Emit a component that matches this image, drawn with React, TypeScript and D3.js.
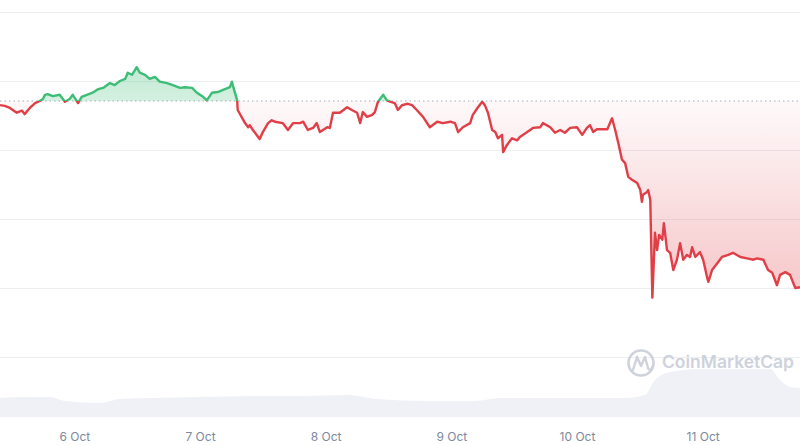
import { useRef, useEffect } from 'react';
import * as d3 from 'd3';

// hours since 5 Oct 00:00, price samples
const hours = [
    9.7, 10.6, 11.6, 12.9, 13.9, 14.4, 15.4, 16.4, 17.3, 17.9,
    18.3, 18.8, 19.8, 21.1, 22.1, 23.0, 23.6, 24.6, 25.3, 26.3,
    27.4, 28.4, 29.4, 30.7, 31.6, 32.6, 33.6, 34.1, 34.9, 35.5,
    35.8, 36.4, 37.4, 38.3, 39.3, 40.2, 41.6, 42.7, 44.1, 45.0,
    46.4, 47.3, 48.5, 49.2, 50.2, 51.3, 52.3, 53.6, 54.0, 54.2,
    55.0, 55.1, 56.5, 57.1, 57.4, 58.0, 59.3, 59.9, 60.9, 61.6,
    62.2, 63.7, 64.7, 65.7, 67.0, 67.6, 68.5, 69.5, 70.2, 70.8,
    72.2, 72.7, 73.3, 74.6, 76.0, 76.9, 77.9, 78.5, 79.0, 79.8,
    80.8, 81.3, 81.9, 82.9, 83.6, 84.2, 85.1, 85.7, 86.5, 87.6,
    88.4, 89.3, 90.5, 91.8, 93.2, 94.3, 95.7, 96.6, 97.2, 98.1,
    99.5, 100.0, 101.0, 101.8, 102.3, 102.9, 103.7, 104.3, 104.8, 105.6,
    105.8, 106.5, 107.5, 108.5, 109.0, 110.4, 111.5, 112.9, 113.4, 114.8,
    115.7, 116.7, 117.6, 118.6, 119.9, 120.9, 121.8, 122.4, 123.0, 123.7,
    124.3, 125.7, 126.6, 127.2, 127.8, 128.5, 129.1, 129.7, 130.4, 131.4,
    132.0, 132.3, 132.5, 133.3, 133.5, 133.9, 134.3, 134.8, 135.2, 135.6,
    136.2, 136.5, 137.1, 137.7, 138.3, 139.0, 139.6, 140.2, 140.9, 141.5,
    141.9, 142.5, 143.4, 144.0, 144.8, 145.0, 145.7, 146.7, 147.6, 148.8,
    149.7, 151.1, 152.4, 153.6, 154.3, 155.5, 156.4, 157.2, 158.1, 158.7,
    159.7, 160.6, 161.6, 162.5
];
const prices = [
    46.5, 46.4, 46.1, 45.4, 45.7, 45.2, 46.1, 46.8, 47.1, 47.4,
    48.0, 48.1, 47.8, 48.0, 47.0, 47.4, 48.0, 46.8, 47.7, 48.0,
    48.3, 48.8, 49.0, 49.7, 49.4, 50.0, 50.3, 51.2, 50.9, 51.6,
    52.0, 51.2, 50.9, 50.3, 50.6, 49.9, 49.7, 49.4, 49.0, 49.1,
    49.0, 48.3, 47.7, 47.2, 48.3, 48.4, 48.7, 49.1, 49.9, 49.3,
    47.2, 45.8, 43.9, 43.3, 43.6, 42.9, 41.6, 42.6, 43.9, 44.3,
    44.1, 43.9, 42.9, 43.9, 43.9, 44.1, 42.9, 43.2, 43.9, 42.6,
    43.3, 43.2, 45.4, 45.4, 46.2, 45.8, 45.4, 43.9, 45.5, 44.8,
    45.1, 45.5, 47.0, 48.0, 47.2, 47.0, 46.8, 45.8, 46.5, 46.7,
    46.5, 45.8, 44.8, 43.3, 44.1, 43.9, 44.1, 43.9, 42.6, 43.3,
    43.9, 45.1, 46.2, 47.0, 46.5, 45.4, 42.9, 42.6, 41.7, 42.2,
    39.7, 40.7, 41.7, 41.4, 41.9, 42.6, 43.2, 43.3, 43.9, 43.3,
    42.5, 42.9, 42.5, 43.2, 43.3, 42.2, 43.2, 43.6, 42.6, 43.0,
    43.0, 43.0, 44.6, 42.9, 41.0, 38.6, 38.1, 36.1, 35.7, 35.2,
    34.2, 32.5, 33.5, 33.9, 34.2, 32.8, 18.6, 28.0, 25.5, 27.7,
    27.0, 29.4, 25.5, 25.1, 22.6, 24.1, 26.5, 24.1, 24.8, 24.5,
    25.9, 24.5, 25.2, 24.1, 21.4, 20.9, 22.6, 23.6, 24.5, 24.8,
    25.1, 24.5, 24.3, 24.1, 24.3, 24.1, 22.6, 22.2, 20.4, 21.9,
    22.3, 21.9, 20.0, 20.1
];
const openPrice = 47.1;

const volumeHours = [
    9.7, 14.4, 19.2, 22.1, 28.8, 32.6, 38.3, 47.9, 57.4, 67.0,
    76.5, 81.3, 91.8, 100.4, 105.2, 116.7, 129.1, 132.9, 134.8, 137.7,
    143.4, 151.1, 156.8, 158.7, 160.6, 162.5
];
const volumes = [
    190, 200, 200, 160, 140, 180, 190, 200, 210, 210,
    220, 180, 160, 160, 190, 190, 190, 220, 370, 450,
    480, 480, 480, 370, 300, 290
];

const priceTicks = [10, 20, 30, 40, 50, 60];

const W = 800;
const H = 445;
const RED = '#e03f47';
const GREEN = '#3dbd76';

type Pt = { t: Date; v: number };

export default function App() {
    const svgRef = useRef<SVGSVGElement | null>(null);

    useEffect(() => {
        if (!svgRef.current) return;
        const svg = d3.select(svgRef.current);
        svg.selectAll('*').remove();

        const base = new Date(2025, 9, 5, 0, 0).getTime();
        const toDate = (h: number) => new Date(base + h * 3600e3);
        const data: Pt[] = hours.map((h, i) => ({ t: toDate(h), v: prices[i] }));
        const vol: Pt[] = volumeHours.map((h, i) => ({ t: toDate(h), v: volumes[i] }));

        const x = d3.scaleTime()
            .domain([toDate(hours[0]), toDate(hours[hours.length - 1])])
            .range([0, W]);
        const y = d3.scaleLinear().domain([10, 60]).range([357, 12]);
        const yVol = d3.scaleLinear().domain([0, 500]).range([417, 367]);
        const yBase = y(openPrice);

        const defs = svg.append('defs');
        defs.append('clipPath').attr('id', 'above')
            .append('rect').attr('x', 0).attr('y', 0).attr('width', W).attr('height', yBase);
        defs.append('clipPath').attr('id', 'below')
            .append('rect').attr('x', 0).attr('y', yBase).attr('width', W).attr('height', H - yBase);

        const redGrad = defs.append('linearGradient').attr('id', 'redGrad')
            .attr('gradientUnits', 'userSpaceOnUse')
            .attr('x1', 0).attr('x2', 0).attr('y1', yBase).attr('y2', y(d3.min(prices)!));
        redGrad.append('stop').attr('offset', 0).attr('stop-color', RED).attr('stop-opacity', 0.03);
        redGrad.append('stop').attr('offset', 1).attr('stop-color', RED).attr('stop-opacity', 0.3);

        const greenGrad = defs.append('linearGradient').attr('id', 'greenGrad')
            .attr('gradientUnits', 'userSpaceOnUse')
            .attr('x1', 0).attr('x2', 0).attr('y1', yBase).attr('y2', y(d3.max(prices)!));
        greenGrad.append('stop').attr('offset', 0).attr('stop-color', GREEN).attr('stop-opacity', 0.22);
        greenGrad.append('stop').attr('offset', 1).attr('stop-color', GREEN).attr('stop-opacity', 0.32);

        // grid
        svg.append('g').selectAll('line')
            .data(priceTicks)
            .join('line')
            .attr('x1', 0).attr('x2', W)
            .attr('y1', d => Math.round(y(d)) + 0.5).attr('y2', d => Math.round(y(d)) + 0.5)
            .attr('stroke', '#eceef2').attr('stroke-width', 1);

        // volume
        svg.append('path')
            .datum(vol)
            .attr('fill', '#eff1f6')
            .attr('d', d3.area<Pt>().x(d => x(d.t)).y0(yVol(0)).y1(d => yVol(d.v)).curve(d3.curveMonotoneX));

        // watermark
        const wm = svg.append('g').attr('opacity', 0.85);
        wm.append('circle').attr('cx', 641).attr('cy', 363).attr('r', 12.5)
            .attr('fill', 'none').attr('stroke', '#c6cbd6').attr('stroke-width', 2.6);
        wm.append('path')
            .attr('d', 'M633,370 L637,357 L641,366 L645,357 L648,368 Q650,372 653,366')
            .attr('fill', 'none').attr('stroke', '#c6cbd6').attr('stroke-width', 2.4)
            .attr('stroke-linejoin', 'round').attr('stroke-linecap', 'round');
        wm.append('text').attr('x', 662).attr('y', 368)
            .attr('font-family', 'Inter, "Noto Sans", sans-serif')
            .attr('font-size', 17).attr('font-weight', 600)
            .attr('textLength', 132).attr('lengthAdjust', 'spacingAndGlyphs')
            .attr('fill', '#c6cbd6')
            .text('CoinMarketCap');

        const area = d3.area<Pt>().x(d => x(d.t)).y0(yBase).y1(d => y(d.v));
        const line = d3.line<Pt>().x(d => x(d.t)).y(d => y(d.v));

        svg.append('path').datum(data).attr('clip-path', 'url(#above)')
            .attr('fill', 'url(#greenGrad)').attr('d', area);
        svg.append('path').datum(data).attr('clip-path', 'url(#below)')
            .attr('fill', 'url(#redGrad)').attr('d', area);

        // opening price reference
        svg.append('line')
            .attr('x1', 0).attr('x2', W)
            .attr('y1', yBase).attr('y2', yBase)
            .attr('stroke', '#a6acb8').attr('stroke-width', 1)
            .attr('stroke-dasharray', '1.5 3');

        svg.append('path').datum(data).attr('clip-path', 'url(#above)')
            .attr('fill', 'none').attr('stroke', GREEN).attr('stroke-width', 2.4)
            .attr('stroke-linejoin', 'round').attr('d', line);
        svg.append('path').datum(data).attr('clip-path', 'url(#below)')
            .attr('fill', 'none').attr('stroke', RED).attr('stroke-width', 2.4)
            .attr('stroke-linejoin', 'round').attr('d', line);

        // x axis labels
        const ticks = x.ticks(d3.timeDay.every(1)!);
        svg.append('g').selectAll('text')
            .data(ticks)
            .join('text')
            .attr('x', d => x(d))
            .attr('y', 441)
            .attr('text-anchor', 'middle')
            .attr('font-family', 'Inter, "Noto Sans", sans-serif')
            .attr('font-size', 12)
            .attr('fill', '#7d889c')
            .text(d => d3.timeFormat('%-d %b')(d));
    }, []);

    return (
        <svg
            ref={svgRef}
            width={W}
            height={H}
            style={{ position: 'absolute', left: 0, top: 0, background: '#fff' }}
        />
    );
}
